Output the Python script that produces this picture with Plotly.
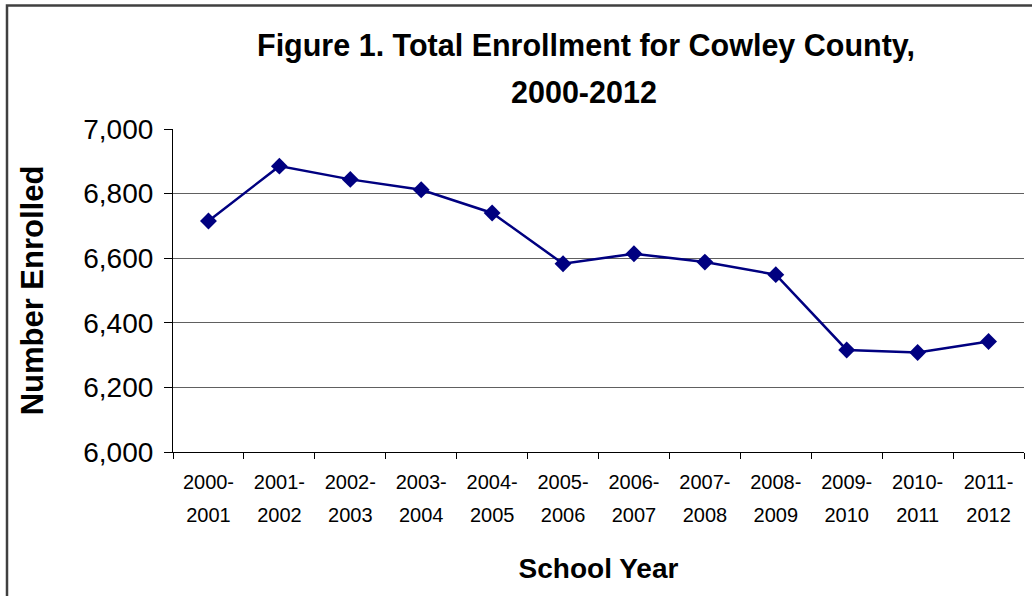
import plotly.graph_objects as go

school_years = ["2000-2001", "2001-2002", "2002-2003", "2003-2004",
                "2004-2005", "2005-2006", "2006-2007", "2007-2008",
                "2008-2009", "2009-2010", "2010-2011", "2011-2012"]
enrollment = [6715, 6885, 6844, 6812, 6740, 6583, 6614, 6588, 6549, 6316, 6308, 6342]
y_ticks = [6000, 6200, 6400, 6600, 6800, 7000]
y_tick_labels = ["6,000", "6,200", "6,400", "6,600", "6,800", "7,000"]

label_top = [s.split("-")[0] + "-" for s in school_years]
label_bottom = [s.split("-")[1] for s in school_years]

W, H = 1032, 596
ML, MR, MT, MB = 173, 8, 129, 144
PW, PH = W - ML - MR, H - MT - MB
FONT = "Arial, Liberation Sans, sans-serif"

fig = go.Figure()
fig.add_trace(go.Scatter(
    x=school_years, y=enrollment, mode="lines+markers",
    line=dict(color="#000080", width=2.5),
    marker=dict(symbol="diamond", size=13, color="#000080"),
    showlegend=False, hoverinfo="x+y",
))
# transparent copy on the overlaid axis that carries the second line of each tick label
fig.add_trace(go.Scatter(
    x=school_years, y=enrollment, mode="lines", xaxis="x2",
    line=dict(color="rgba(0,0,0,0)", width=0),
    showlegend=False, hoverinfo="skip",
))

# outer chart border (left and top visible)
bx0 = (7 - ML) / PW
by1 = (H - MB - 5.5) / PH
fig.add_shape(type="rect", xref="paper", yref="paper",
              x0=bx0, x1=1.5, y0=-1.0, y1=by1,
              line=dict(color="#404040", width=2.5), fillcolor="rgba(0,0,0,0)", layer="above")

fig.add_annotation(text="<b>Figure 1. Total Enrollment for Cowley County,</b>",
                   xref="paper", yref="paper",
                   x=(586 - ML) / PW, y=(H - MB - 46) / PH,
                   showarrow=False, font=dict(family=FONT, size=30.5, color="black"),
                   xanchor="center", yanchor="middle")
fig.add_annotation(text="<b>2000-2012</b>",
                   xref="paper", yref="paper",
                   x=(584 - ML) / PW, y=(H - MB - 92) / PH,
                   showarrow=False, font=dict(family=FONT, size=30.5, color="black"),
                   xanchor="center", yanchor="middle")

fig.update_layout(
    width=W, height=H,
    margin=dict(l=ML, r=MR, t=MT, b=MB, autoexpand=False),
    paper_bgcolor="white", plot_bgcolor="white",
    font=dict(family=FONT, color="black"),
    xaxis=dict(
        type="category", showgrid=False, showline=True, linecolor="black", linewidth=1.2,
        ticks="outside", tickson="boundaries", ticklen=6, tickcolor="black",
        tickvals=school_years, ticktext=label_top,
        tickfont=dict(size=20, family=FONT, color="black"),
        ticklabelstandoff=12,
        title=dict(text="<b>School Year</b>", font=dict(size=28, family=FONT, color="black"),
                   standoff=66),
        range=[-0.5, 11.5], automargin=False,
    ),
    xaxis2=dict(
        type="category", overlaying="x", side="bottom", anchor="y", range=[-0.5, 11.5],
        tickvals=school_years, ticktext=label_bottom,
        tickfont=dict(size=20, family=FONT, color="black"),
        showgrid=False, showline=False, zeroline=False, ticks="",
        ticklabelstandoff=49, automargin=False,
    ),
    yaxis=dict(
        range=[6000, 7000], tickvals=y_ticks, ticktext=y_tick_labels,
        showgrid=True, gridcolor="#606060", gridwidth=1.2,
        showline=True, linecolor="black", linewidth=1.2,
        ticks="outside", ticklen=8, tickcolor="black",
        tickfont=dict(size=28, family=FONT, color="black"),
        ticklabelstandoff=5,
        title=dict(text="<b>Number Enrolled</b>", font=dict(size=31, family=FONT, color="black"),
                   standoff=30),
        zeroline=False, automargin=False,
    ),
)

fig.write_html("out.html", config={"displayModeBar": False},
               post_script="document.body.style.margin='0';")
